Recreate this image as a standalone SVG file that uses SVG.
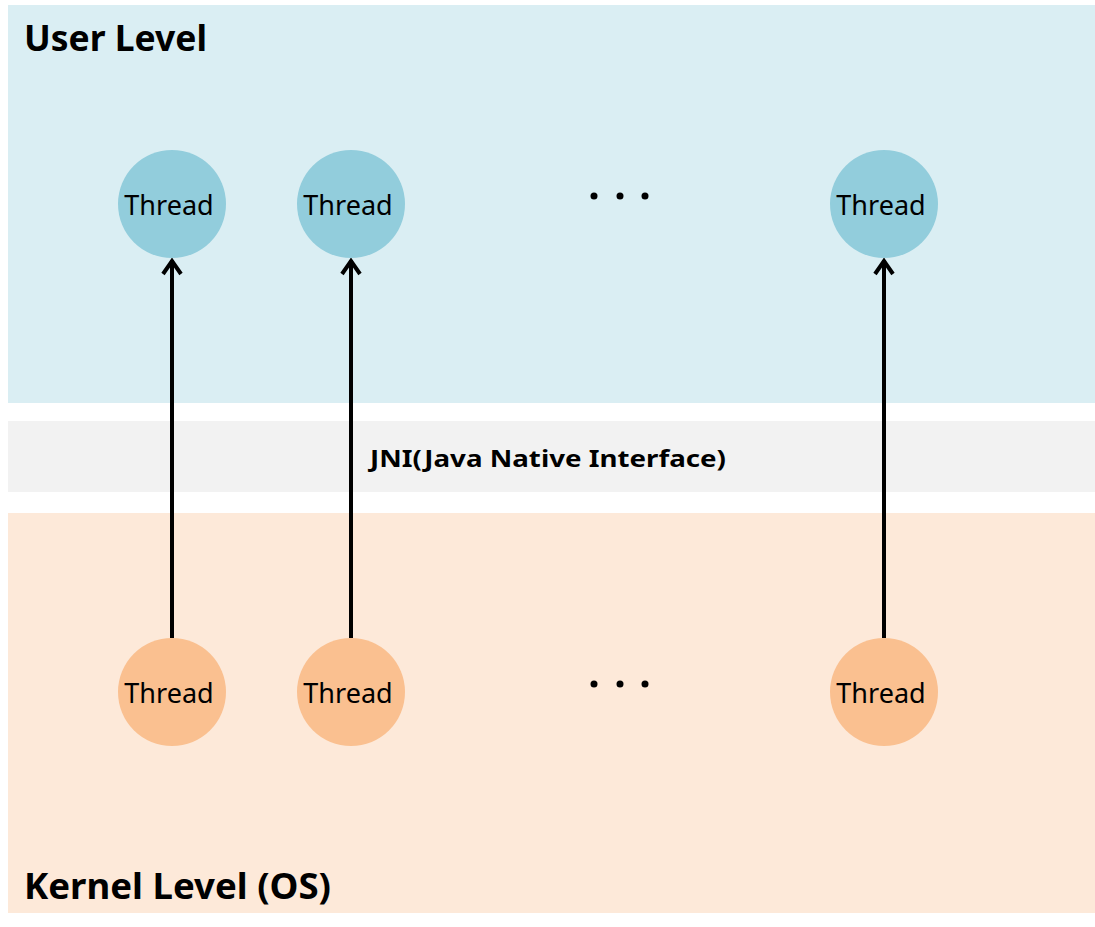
<svg xmlns="http://www.w3.org/2000/svg" width="1095" height="927" viewBox="0 0 1095 927">
<defs>
<style>
.t{font-family:"Noto Sans","Open Sans",sans-serif;font-size:27px;fill:#000;text-anchor:middle;dominant-baseline:central}
.h{font-family:"Noto Sans","Open Sans",sans-serif;font-size:35px;font-weight:bold;fill:#000}
.u{fill:#92cddc}
.k{fill:#fac090}
.c{stroke:#000;stroke-width:4;fill:none}
.d{fill:#000}
</style>
<marker id="ah" viewBox="0 0 24 24" refX="18" refY="12" markerWidth="24" markerHeight="24" markerUnits="userSpaceOnUse" orient="auto">
<path d="M4,3 L17,12 L4,21" fill="none" stroke="#000" stroke-width="4"/>
</marker>
</defs>
<rect width="1095" height="927" fill="#fff"/>
<g id="user-level">
<rect x="8" y="5" width="1087" height="398" fill="#daeef3"/>
<text class="h" x="24" y="51" textLength="183" lengthAdjust="spacingAndGlyphs">User Level</text>
</g>
<g id="jni">
<rect x="8" y="421" width="1087" height="71" fill="#f2f2f2"/>
<text x="548" y="467" font-family="Noto Sans, Open Sans, sans-serif" font-size="24" font-weight="bold" text-anchor="middle" textLength="356" lengthAdjust="spacingAndGlyphs">JNI(Java Native Interface)</text>
</g>
<g id="kernel-level">
<rect x="8" y="513" width="1087" height="400" fill="#fde9d9"/>
<text class="h" x="24" y="899" textLength="307" lengthAdjust="spacingAndGlyphs">Kernel Level (OS)</text>
</g>
<g id="connectors">
<line class="c" x1="172" y1="638" x2="172" y2="260" marker-end="url(#ah)"/>
<line class="c" x1="351" y1="638" x2="351" y2="260" marker-end="url(#ah)"/>
<line class="c" x1="884" y1="638" x2="884" y2="260" marker-end="url(#ah)"/>
</g>
<g id="u1"><circle class="u" cx="172" cy="204" r="54"/><text class="t" x="169" y="204">Thread</text></g>
<g id="u2"><circle class="u" cx="351" cy="204" r="54"/><text class="t" x="348" y="204">Thread</text></g>
<g id="u-dots"><circle class="d" cx="594" cy="196" r="3.5"/><circle class="d" cx="620" cy="196" r="3.5"/><circle class="d" cx="645" cy="196" r="3.5"/></g>
<g id="u3"><circle class="u" cx="884" cy="204" r="54"/><text class="t" x="881" y="204">Thread</text></g>
<g id="k1"><circle class="k" cx="172" cy="692" r="54"/><text class="t" x="169" y="692">Thread</text></g>
<g id="k2"><circle class="k" cx="351" cy="692" r="54"/><text class="t" x="348" y="692">Thread</text></g>
<g id="k-dots"><circle class="d" cx="594" cy="684" r="3.5"/><circle class="d" cx="620" cy="684" r="3.5"/><circle class="d" cx="645" cy="684" r="3.5"/></g>
<g id="k3"><circle class="k" cx="884" cy="692" r="54"/><text class="t" x="881" y="692">Thread</text></g>
</svg>
